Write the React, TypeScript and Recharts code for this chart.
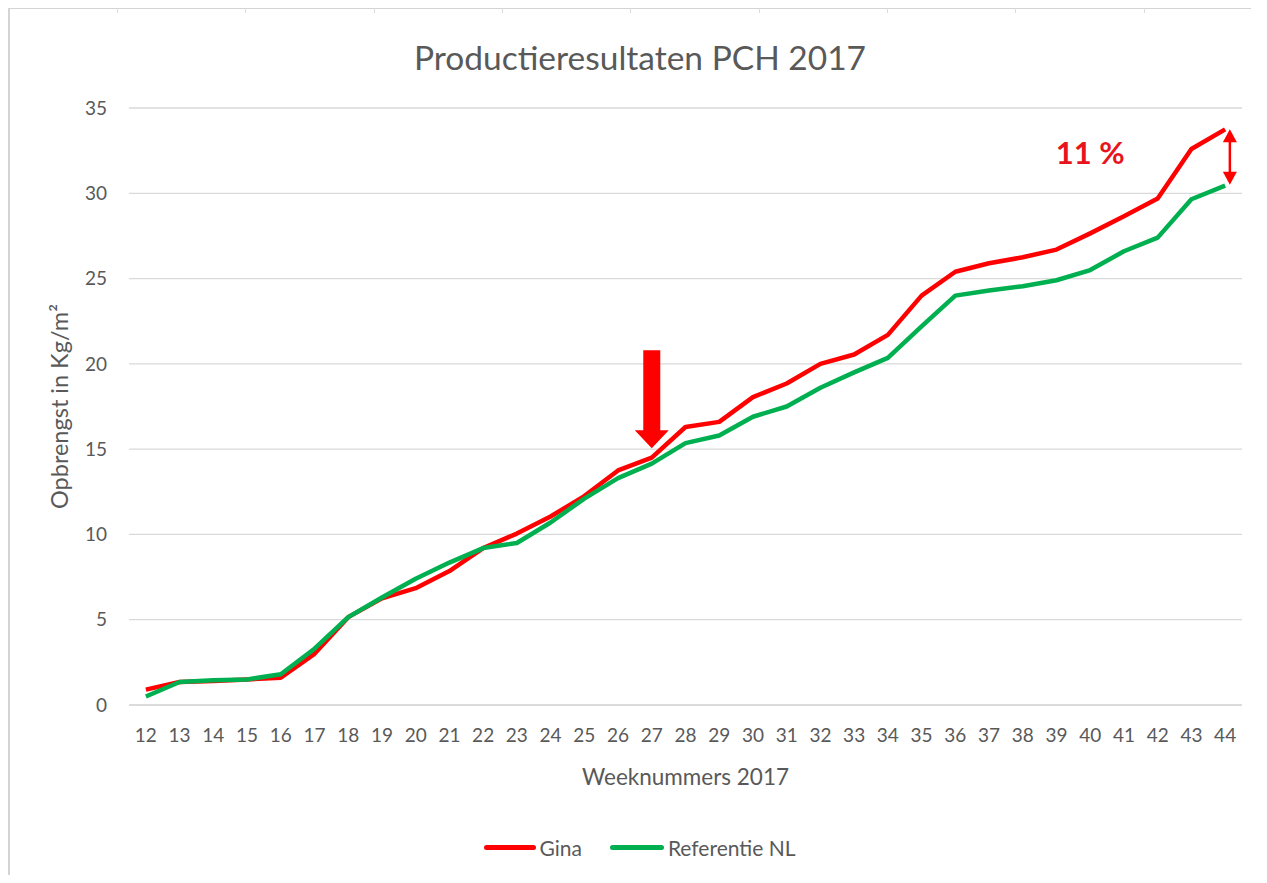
import React from "react";
import { LineChart, Line, XAxis, YAxis, CartesianGrid, Legend, ReferenceLine } from "recharts";

const weeks = [12, 13, 14, 15, 16, 17, 18, 19, 20, 21, 22, 23, 24, 25, 26, 27, 28, 29, 30, 31, 32, 33, 34, 35, 36, 37, 38, 39, 40, 41, 42, 43, 44];
const gina = [0.9, 1.35, 1.4, 1.5, 1.6, 3.0, 5.15, 6.25, 6.85, 7.85, 9.2, 10.05, 11.05, 12.25, 13.75, 14.5, 16.3, 16.6, 18.05, 18.85, 20.0, 20.55, 21.7, 24.0, 25.4, 25.9, 26.25, 26.7, 27.65, 28.65, 29.7, 32.6, 33.75];
const referentie = [0.5, 1.35, 1.45, 1.5, 1.8, 3.3, 5.15, 6.3, 7.4, 8.35, 9.2, 9.5, 10.7, 12.1, 13.3, 14.15, 15.35, 15.8, 16.9, 17.5, 18.6, 19.5, 20.35, 22.2, 24.0, 24.3, 24.55, 24.9, 25.5, 26.6, 27.4, 29.65, 30.45];
const yTicks = [0, 5, 10, 15, 20, 25, 30, 35];
const seriesNames = ["Gina", "Referentie NL"];

// annotations (in data units)
const bigArrow = { week: 27, from: 20.8, to: 15.05 };
const gapArrow = { week: 44.14, top: 33.75, bottom: 30.5 };
const gapLabel = { week: 40.0, value: 32.4, text: "11 %" };

const data = weeks.map((w, i) => ({ week: w, gina: gina[i], ref: referentie[i] }));

const RED = "#ff0000";
const GREEN = "#00b050";
const TEXT = "#595959";
const GRID = "#d9d9d9";
const FONT = "Lato, 'Open Sans', sans-serif";

const BigArrowShape = (p: any) => {
  const { x1, y1, y2 } = p;
  const shaft = 8.5;
  const head = 17;
  const headLen = 18;
  const hy = y2 - headLen;
  const pts = [
    [x1 - shaft, y1], [x1 + shaft, y1], [x1 + shaft, hy], [x1 + head, hy],
    [x1, y2], [x1 - head, hy], [x1 - shaft, hy],
  ].map((q) => q.join(",")).join(" ");
  return <polygon points={pts} fill={RED} />;
};

const DoubleArrowShape = (p: any) => {
  const { x1, y1, y2 } = p;
  const hw = 7;
  const hl = 13;
  return (
    <g>
      <line x1={x1} y1={y1 + hl - 1} x2={x1} y2={y2 - hl + 1} stroke={RED} strokeWidth={2.5} />
      <polygon points={`${x1},${y1} ${x1 + hw},${y1 + hl} ${x1 - hw},${y1 + hl}`} fill={RED} />
      <polygon points={`${x1},${y2} ${x1 + hw},${y2 - hl} ${x1 - hw},${y2 - hl}`} fill={RED} />
    </g>
  );
};

const TextShape = (p: any) => {
  const { x1, y1 } = p;
  return (
    <text x={x1} y={y1} textAnchor="middle" dominantBaseline="central" fill="#e8141c" fontSize={31} fontWeight={700} fontFamily={FONT}>
      {gapLabel.text}
    </text>
  );
};

const LegendContent = () => (
  <div style={{ display: "flex", justifyContent: "center", alignItems: "center", fontFamily: FONT, fontSize: 21, color: TEXT }}>
    <div style={{ display: "flex", alignItems: "center", marginRight: 28 }}>
      <div style={{ width: 52, height: 5, background: RED, borderRadius: 3, marginRight: 3 }} />
      <span>{seriesNames[0]}</span>
    </div>
    <div style={{ display: "flex", alignItems: "center" }}>
      <div style={{ width: 54, height: 5, background: GREEN, borderRadius: 3, marginRight: 4 }} />
      <span>{seriesNames[1]}</span>
    </div>
  </div>
);

export default function App() {
  return (
    <div style={{ position: "relative", width: 1241, height: 866, borderLeft: "2px solid #d4d4d4", borderTop: "1px solid #d4d4d4", background: "#fff" }}>
      {[107, 235, 364, 492, 620, 749, 877, 1005, 1134].map((x) => (
        <div key={x} style={{ position: "absolute", left: x, top: -5, width: 1, height: 9, background: "#dcdcdc" }} />
      ))}
      <div style={{ position: "absolute", left: 0, top: 28, width: 1260, textAlign: "center", fontFamily: FONT, fontSize: 33.5, color: TEXT, lineHeight: "40px" }}>
        Productieresultaten PCH 2017
      </div>
      <LineChart width={1240} height={866} data={data} margin={{ top: 99, right: 8, bottom: 90, left: 19 }}>
        <CartesianGrid vertical={false} stroke={GRID} strokeWidth={1.3} />
        <XAxis
          dataKey="week"
          type="number"
          domain={[11.5, 44.5]}
          ticks={weeks}
          interval={0}
          tickLine={false}
          axisLine={{ stroke: GRID, strokeWidth: 1.3 }}
          tick={{ fill: TEXT, fontSize: 19, fontFamily: FONT }}
          tickMargin={18}
          height={80}
          label={{ value: "Weeknummers 2017", position: "insideBottom", offset: 0, fill: TEXT, fontSize: 22.5, fontFamily: FONT }}
        />
        <YAxis
          type="number"
          domain={[0, 35]}
          ticks={yTicks}
          tickLine={false}
          axisLine={false}
          tick={{ fill: TEXT, fontSize: 19, fontFamily: FONT }}
          tickMargin={16}
          width={100}
          label={{ value: "Opbrengst in Kg/m²", angle: -90, position: "insideLeft", offset: 31, fill: TEXT, fontSize: 23.5, fontFamily: FONT, style: { textAnchor: "middle" } }}
        />
        <Legend layout="horizontal" verticalAlign="middle" align="center" wrapperStyle={{ top: 826, left: 0, width: 1260 }} content={LegendContent} />
        <Line type="linear" dataKey="gina" name={seriesNames[0]} stroke={RED} strokeWidth={4.5} dot={false} isAnimationActive={false} strokeLinejoin="round" />
        <Line type="linear" dataKey="ref" name={seriesNames[1]} stroke={GREEN} strokeWidth={4.5} dot={false} isAnimationActive={false} strokeLinejoin="round" />
        <ReferenceLine segment={[{ x: bigArrow.week, y: bigArrow.from }, { x: bigArrow.week, y: bigArrow.to }]} shape={BigArrowShape} ifOverflow="visible" />
        <ReferenceLine segment={[{ x: gapArrow.week, y: gapArrow.top }, { x: gapArrow.week, y: gapArrow.bottom }]} shape={DoubleArrowShape} ifOverflow="visible" />
        <ReferenceLine segment={[{ x: gapLabel.week, y: gapLabel.value }, { x: gapLabel.week, y: gapLabel.value }]} shape={TextShape} ifOverflow="visible" />
      </LineChart>
    </div>
  );
}
